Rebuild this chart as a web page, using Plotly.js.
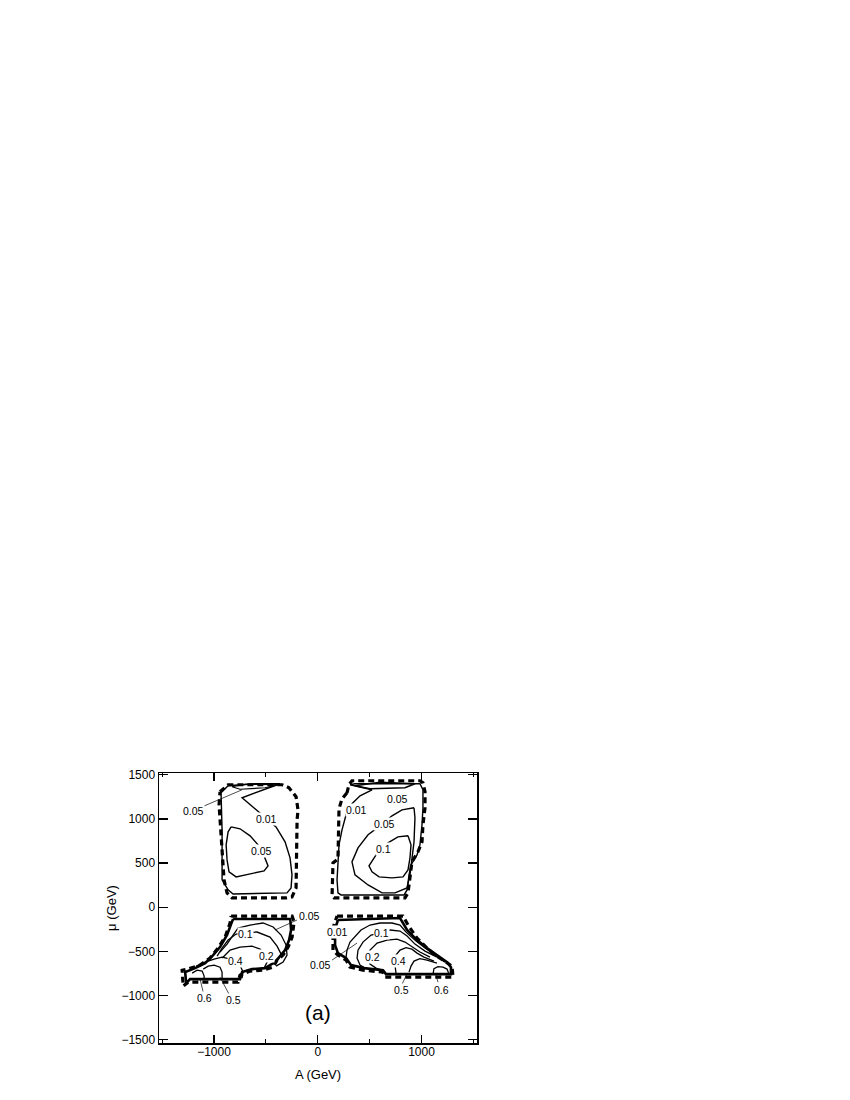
<!DOCTYPE html>
<html>
<head>
<meta charset="utf-8">
<script src="https://cdn.plot.ly/plotly-3.0.1.min.js"></script>
<style>html,body{margin:0;padding:0;background:#fff;}#chart{width:850px;height:1100px;}</style>
</head>
<body>
<div id="chart"></div>
<script>
// ---------- data (A in GeV, mu in GeV) ----------
// top-left island
const tlDashX = [-942,-864,-344,-277,-209,-190,-199,-209,-248,-305,-826,-874,-903,-922,-932,-951,-942];
const tlDashY = [1307,1387,1387,1353,1251,1103,990,219,117,105,105,162,309,649,933,1160,1307];
const tl001X = [-922,-922,-932,-864,-604,-363,-729,-633,-537,-402,-315,-267,-248,-257,-296,-816,-864,-893,-922];
const tl001Y = [309,876,1296,1376,1398,1398,1240,1149,1047,910,740,559,366,219,162,150,196,252,309];
const tlTop005X = [-826,-700,-383,-508,-749,-826];
const tlTop005Y = [1364,1392,1387,1353,1336,1364];
const tl005X = [-835,-749,-652,-575,-517,-479,-517,-652,-787,-855,-874,-883,-864,-835];
const tl005Y = [910,888,808,706,581,468,411,377,343,400,536,706,854,910];
// top-right island
const trDashX = [282,234,205,195,147,138,157,841,870,889,908,966,1005,1014,1034,1034,1014,985,330,301,282];
const trDashY = [1296,1228,1115,547,502,127,105,105,162,366,513,627,740,933,1126,1308,1409,1432,1432,1387,1296];
const tr001X = [311,523,408,330,273,234,205,195,186,195,224,832,861,880,899,957,985,1005,1014,1014,985,359,311];
const tr001Y = [1387,1330,1262,1172,1047,876,706,513,309,162,139,139,196,366,479,593,706,933,1126,1330,1398,1398,1387];
const trTop005X = [359,600,937,841,504,359];
const trTop005Y = [1376,1415,1398,1353,1342,1376];
const tr005X = [928,812,716,600,485,388,330,359,485,620,745,860,889,908,928,937,928];
const tr005Y = [1126,1103,1035,921,820,672,513,366,252,162,162,219,366,559,740,1013,1126];
const tr01X = [870,773,677,581,494,523,591,716,822,870,889,899,870];
const tr01Y = [809,797,729,627,468,400,343,332,343,423,559,706,809];
// bottom-left island
const blDashX = [-835,-247,-228,-247,-286,-334,-392,-430,-527,-652,-749,-768,-1249,-1297,-1307,-1259,-1134,-1038,-961,-893,-845,-835];
const blDashY = [-100,-100,-168,-338,-452,-542,-599,-679,-713,-724,-769,-849,-849,-894,-713,-701,-656,-576,-463,-338,-179,-100];
const bl001X = [-816,-265,-257,-276,-315,-363,-411,-508,-633,-729,-749,-1230,-1268,-1278,-1182,-1085,-1008,-942,-874,-835,-816];
const bl001Y = [-134,-134,-258,-372,-486,-554,-622,-690,-701,-735,-815,-815,-860,-735,-690,-633,-542,-452,-315,-190,-134];
const bl005X = [-942,-874,-816,-768,-652,-527,-430,-353,-305,-296,-334,-402];
const bl005Y = [-508,-418,-315,-236,-202,-179,-224,-315,-429,-542,-622,-667];
const bl01X = [-970,-922,-864,-787,-700,-585,-460,-392,-353,-383];
const bl01Y = [-554,-463,-372,-304,-290,-281,-338,-441,-531,-599];
const bl02X = [-920,-845,-749,-633,-556,-508,-488,-517,-595];
const bl02Y = [-576,-486,-452,-441,-475,-542,-622,-690,-713];
const bl04X = [-1172,-1085,-999,-922,-797,-749,-720,-729];
const bl04Y = [-667,-622,-588,-565,-600,-656,-735,-803];
const bl05X = [-1104,-1056,-999,-942,-922,-922];
const bl05Y = [-701,-667,-656,-679,-735,-815];
const bl06X = [-1211,-1162,-1114,-1095,-1095];
const bl06Y = [-746,-713,-724,-780,-826];
// bottom-right island
const brDashX = [186,822,870,957,1053,1130,1207,1294,1304,648,629,436,311,273,195,147,147,186];
const brDashY = [-100,-100,-202,-350,-463,-542,-599,-667,-792,-792,-735,-713,-679,-599,-542,-486,-236,-100];
const br001X = [195,793,861,957,1053,1149,1246,1284,1284,658,629,446,321,273,195,167,167,176,195];
const br001Y = [-145,-122,-258,-372,-463,-542,-622,-679,-758,-758,-713,-690,-656,-576,-520,-429,-315,-213,-145];
const br005X = [273,282,311,359,417,504,600,716,793,851,947,1034,1130,1226];
const br005Y = [-565,-486,-395,-327,-258,-202,-179,-179,-202,-281,-384,-463,-542,-622];
const br01X = [456,408,379,388,436,514,610,697,793,861,937,1034,1149];
const br01Y = [-690,-656,-576,-486,-395,-315,-290,-258,-270,-327,-418,-497,-565];
const br02X = [619,562,504,485,504,572,668,764,841,918,985,1082];
const br02Y = [-713,-690,-645,-565,-486,-406,-372,-361,-395,-452,-508,-565];
const br04X = [754,745,754,793,851,908,957,1024,1120];
const br04Y = [-747,-656,-542,-486,-458,-475,-520,-565,-610];
const br05X = [880,899,928,985,1053,1149];
const br05Y = [-735,-667,-610,-582,-599,-633];
const br06X = [1111,1120,1159,1207,1246,1265];
const br06Y = [-758,-696,-673,-679,-701,-758];
// leader lines
const leadTlX = [-1114,-729], leadTlY = [1137,1330];
const leadBl005X = [-200,-411], leadBl005Y = [-145,-258];
const leadBl06X = [-1104,-1134], leadBl06Y = [-962,-815];
const leadBl05X = [-855,-942], leadBl05Y = [-985,-792];
const leadBr005X = [138,379], leadBr005Y = [-599,-406];
const leadBr05X = [812,860], leadBr05Y = [-872,-758];
const leadBr06X = [1159,1140], leadBr06Y = [-849,-769];
// contour labels
const labelText = ["0.05","0.01","0.05","0.05","0.01","0.05","0.1","0.05","0.1","0.2","0.4","0.6","0.5","0.01","0.1","0.05","0.2","0.4","0.5","0.6"];
const labelX = [-1200,-498,-546,764,369,648,629,-84,-700,-498,-797,-1093,-816,186,610,31,523,783,803,1188];
const labelY = [1092,1001,638,1229,1103,944,660,-100,-304,-554,-610,-1030,-1053,-281,-293,-656,-565,-610,-940,-940];
const panelLabel = "(a)";
const xTickVals = [-1000,0,1000];
const yTickVals = [-1500,-1000,-500,0,500,1000,1500];

// ---------- traces ----------
const traces = [];
function add(x, y, width, dash) {
  traces.push({type:'scatter', mode:'lines', x:x, y:y, hoverinfo:'skip', showlegend:false,
    line:{color:'#000', width:width, dash:dash || 'solid'}});
}
const DASH = '6px,4px';
[[tlDashX,tlDashY],[trDashX,trDashY],[blDashX,blDashY],[brDashX,brDashY]].forEach(p=>add(p[0],p[1],3.2,DASH));
add(tl001X,tl001Y,1.4); add(tlTop005X,tlTop005Y,1.2); add(tl005X,tl005Y,1.4);
add(tr001X,tr001Y,1.4); add(trTop005X,trTop005Y,1.6); add(tr005X,tr005Y,1.4); add(tr01X,tr01Y,1.4);
add(bl001X,bl001Y,2.6); add(bl005X,bl005Y,1.3); add(bl01X,bl01Y,1.3); add(bl02X,bl02Y,1.3);
add(bl04X,bl04Y,1.3); add(bl05X,bl05Y,1.3); add(bl06X,bl06Y,1.3);
add(br001X,br001Y,2.6); add(br005X,br005Y,1.3); add(br01X,br01Y,1.3); add(br02X,br02Y,1.3);
add(br04X,br04Y,1.3); add(br05X,br05Y,1.3); add(br06X,br06Y,1.3);
[[leadTlX,leadTlY],[leadBl005X,leadBl005Y],[leadBl06X,leadBl06Y],[leadBl05X,leadBl05Y],
 [leadBr005X,leadBr005Y],[leadBr05X,leadBr05Y],[leadBr06X,leadBr06Y]].forEach(p=>add(p[0],p[1],0.7));

const FONT = 'Liberation Sans, Arial, Helvetica, sans-serif';
const annotations = labelText.map((t,i)=>({x:labelX[i], y:labelY[i], xref:'x', yref:'y', text:t,
  showarrow:false, bgcolor:'#fff', borderpad:0, font:{family:FONT, size:10.5, color:'#000'}}));
annotations.push({x:0, y:-1190, xref:'x', yref:'y', text:panelLabel, showarrow:false,
  font:{family:FONT, size:21, color:'#000'}});

const axisCommon = {showgrid:false, zeroline:false, showline:true, linecolor:'#000', linewidth:1.5,
  mirror:'ticks', ticks:'inside', tickcolor:'#000', tickwidth:1.3,
  tickfont:{family:FONT, size:12, color:'#000'}};

const layout = {
  width:850, height:1100, paper_bgcolor:'#fff', plot_bgcolor:'#fff',
  margin:{l:159, r:373, t:773, b:57, pad:0},
  showlegend:false,
  xaxis: Object.assign({}, axisCommon, {range:[-1530,1535], tickmode:'array', tickvals:xTickVals,
    ticklen:8, ticklabelstandoff:-3,
    minor:{tickmode:'array', tickvals:[-1500,-500,500,1500], ticklen:4, ticks:'inside', tickcolor:'#000', tickwidth:1.2},
    title:{text:'A (GeV)', font:{family:FONT, size:13, color:'#000'}, standoff:12}}),
  yaxis: Object.assign({}, axisCommon, {range:[-1538,1520], tickmode:'array', tickvals:yTickVals,
    ticklen:9, title:{text:'μ (GeV)', font:{family:FONT, size:13, color:'#000'}, standoff:2}}),
  annotations: annotations
};
Plotly.newPlot('chart', traces, layout, {staticPlot:true, displayModeBar:false});
</script>
</body>
</html>
